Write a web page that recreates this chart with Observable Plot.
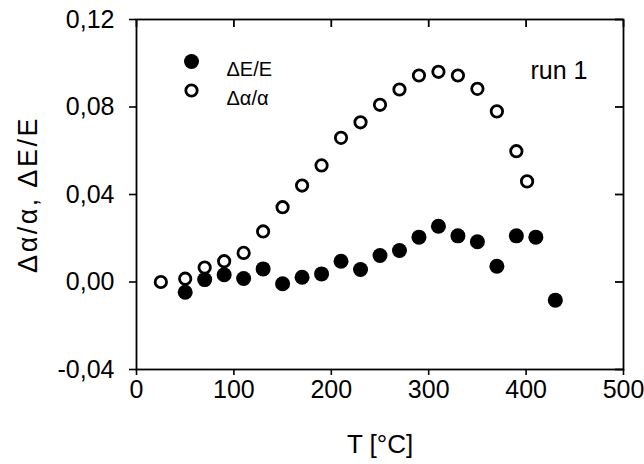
<!DOCTYPE html>
<html><head><meta charset="utf-8">
<script src="https://cdn.jsdelivr.net/npm/d3@7"></script>
<script src="https://cdn.jsdelivr.net/npm/@observablehq/plot@0.6"></script>
<style>
body{margin:0;background:#fff}
g[aria-label="x-axis label"] text {font-size:26px}
g[aria-label="y-axis label"] text {font-size:27px; letter-spacing:2.5px}
</style>
</head><body><div id="chart"></div>
<script>
// ΔE/E series (filled circles)
const tempE = [50, 70, 90, 110, 130, 150, 170, 190, 210, 230, 250, 270, 290, 310, 330, 350, 370, 390, 410, 430];
const valE  = [-0.0047, 0.0011, 0.0033, 0.0016, 0.0060, -0.0008, 0.0022, 0.0037, 0.0095, 0.0057, 0.0121, 0.0144, 0.0205, 0.0255, 0.0211, 0.0184, 0.0072, 0.0211, 0.0205, -0.0083];
// Δα/α series (open circles)
const tempA = [25, 50, 70, 90, 110, 130, 150, 170, 190, 210, 230, 250, 270, 290, 310, 330, 350, 370, 390, 401];
const valA  = [0.0000, 0.0015, 0.0066, 0.0095, 0.0133, 0.0231, 0.0342, 0.0441, 0.0533, 0.0659, 0.0730, 0.0810, 0.0880, 0.0944, 0.0961, 0.0944, 0.0883, 0.0780, 0.0598, 0.0460];

const xTicks = [0, 100, 200, 300, 400, 500];
const yTicks = [-0.04, 0, 0.04, 0.08, 0.12];
const seriesLabels = ["ΔE/E", "Δα/α"];
const noteText = "run 1";
const xLabel = "T [°C]";
const yLabel = "Δα/α, ΔE/E";

const dataE = tempE.map((t, i) => ({t, v: valE[i]}));
const dataA = tempA.map((t, i) => ({t, v: valA[i]}));
const fmt = d => d.toFixed(2).replace(".", ",");

const W = 644, H = 464, mL = 136, mR = 21, mT = 19, mB = 95;

const chart = Plot.plot({
  width: W, height: H,
  marginLeft: mL, marginRight: mR, marginTop: mT, marginBottom: mB,
  style: {fontFamily: "Arial, 'Liberation Sans', sans-serif", fontSize: "25px", color: "#000", background: "#fff"},
  x: {domain: [0, 500]},
  y: {domain: [-0.04, 0.12]},
  marks: [
    Plot.axisX(xTicks, {anchor: "bottom", tickSize: 6, tickPadding: 5, strokeWidth: 1.6, label: xLabel, labelAnchor: "center", labelArrow: "none", labelOffset: 83}),
    Plot.axisY(yTicks, {anchor: "left", tickSize: 7, tickPadding: 15, strokeWidth: 1.6, tickFormat: fmt, label: yLabel, labelAnchor: "center", labelArrow: "none", labelOffset: 119}),
    // inward ticks on the top and right edges
    Plot.axisX(xTicks, {anchor: "top", tickSize: 7, dy: 7, stroke: "#000", strokeWidth: 1.8, tickFormat: () => "", label: null}),
    Plot.ruleY(yTicks, {y: d => d, insetLeft: (W - mL - mR) - 8, stroke: "#000", strokeWidth: 1.8}),
    Plot.frame({stroke: "#000", strokeWidth: 1.8}),
    Plot.dot(dataE, {x: "t", y: "v", r: 7.5, fill: "#000", stroke: "none"}),
    Plot.dot(dataA, {x: "t", y: "v", r: 5.7, fill: "#fff", stroke: "#000", strokeWidth: 2.8}),
    Plot.dot([seriesLabels[0]], {frameAnchor: "top-left", dx: 55, dy: 42, r: 7.5, fill: "#000", stroke: "none"}),
    Plot.dot([seriesLabels[1]], {frameAnchor: "top-left", dx: 55, dy: 71, r: 5.7, fill: "#fff", stroke: "#000", strokeWidth: 2.8}),
    Plot.text([seriesLabels[0]], {frameAnchor: "top-left", dx: 90, dy: 42, textAnchor: "start", fontSize: 20, text: d => d}),
    Plot.text([seriesLabels[1]], {frameAnchor: "top-left", dx: 90, dy: 71, textAnchor: "start", fontSize: 20, text: d => d}),
    Plot.text([noteText], {frameAnchor: "top-right", dx: -36, dy: 42, textAnchor: "end", fontSize: 25, text: d => d})
  ]
});
document.getElementById("chart").append(chart);
</script>
</body></html>
